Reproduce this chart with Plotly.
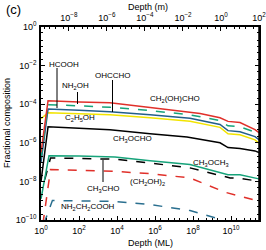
import plotly.graph_objects as go

# log10(depth in ML) and log10(fractional composition)
red_x = [0, 0.37, 2, 3.63, 5.74, 7.84, 8.37, 9.42, 9.84, 10.47, 11.26, 11.47]
red_y = [-6.5, -3.82, -3.88, -3.93, -4.17, -4.44, -4.48, -4.70, -4.89, -4.95, -5.32, -5.48]
gd_x = [0, 0.37, 2, 3.63, 5.74, 7.84, 9.42, 9.84, 10.47, 11.26, 11.47]
gd_y = [-6.8, -4.03, -4.08, -4.16, -4.33, -4.55, -4.85, -5.12, -5.17, -5.45, -5.63]
bl_x = [0, 0.37, 2, 3.63, 5.74, 7.84, 9.42, 9.84, 10.47, 11.26, 11.47]
bl_y = [-7.0, -4.25, -4.31, -4.39, -4.55, -4.73, -5.05, -5.37, -5.43, -5.68, -5.84]
ye_x = [0, 0.37, 2, 3.63, 5.74, 7.84, 9.42, 9.84, 10.47, 11.26, 11.47]
ye_y = [-4.75, -4.44, -4.49, -4.55, -4.70, -4.88, -5.20, -5.53, -5.58, -5.85, -6.02]
bk_x = [0, 0.37, 2, 3.63, 5.74, 7.68, 9.42, 9.84, 10.47, 11.26, 11.47]
bk_y = [-8.0, -5.17, -5.24, -5.32, -5.53, -5.70, -6.00, -6.25, -6.30, -6.42, -6.51]
gs_x = [0, 0.42, 2, 3.89, 5.74, 7.84, 9.84, 10.47, 11.47]
gs_y = [-8.9, -6.67, -6.69, -6.73, -6.93, -7.13, -7.65, -7.66, -7.87]
kd_x = [0.2, 0.5, 2, 3.89, 5.74, 7.84, 9.95, 10.5, 11.47]
kd_y = [-7.9, -6.79, -6.81, -6.85, -7.05, -7.30, -7.82, -7.84, -8.0]
rd_x = [0.1, 0.5, 2, 3.89, 5.74, 7.84, 9.68, 11.47]
rd_y = [-10.2, -7.39, -7.43, -7.48, -7.60, -7.82, -8.56, -9.03]
bd_x = [0.15, 0.6, 2, 3.89, 5.74, 7.84, 9.47, 9.7]
bd_y = [-10.2, -8.99, -9.01, -9.04, -9.2, -9.51, -9.97, -10.2]

ml_per_m_log = 9.47  # 1 ML ~ 3.4e-10 m
x_max_log = 11.4705

fig = go.Figure()

def add(xs, ys, color, dash):
    fig.add_trace(go.Scatter(x=[10**v for v in xs], y=[10**v for v in ys], mode="lines",
                             line=dict(color=color, width=1.5, dash=dash), showlegend=False))

add(bd_x, bd_y, "#2a6f8f", "dash")
add(rd_x, rd_y, "#e0302a", "dash")
add(kd_x, kd_y, "#000000", "dash")
add(gs_x, gs_y, "#16a37a", "solid")
add(bk_x, bk_y, "#000000", "solid")
add(ye_x, ye_y, "#f2e400", "solid")
add(bl_x, bl_y, "#235f8a", "solid")
add(gd_x, gd_y, "#16a37a", "dash")
add(red_x, red_y, "#e0302a", "solid")

# dummy trace for top axis
fig.add_trace(go.Scatter(x=[1e-9], y=[1e-20], xaxis="x2", mode="markers",
                         marker=dict(opacity=0), showlegend=False, hoverinfo="skip"))

FAM = "Liberation Sans, Arial, sans-serif"
font = dict(family=FAM, size=9, color="black")

def sup(v):
    return "10<sup>%d</sup>" % v if v >= 0 else "10<sup>\u2212%d</sup>" % (-v)

bx_vals = [10**v for v in range(0, 12, 2)]
bx_text = [sup(v) for v in range(0, 12, 2)]
tx_vals = [10**v for v in range(-8, 4, 2)]
tx_text = [sup(v) for v in range(-8, 4, 2)]
y_vals = [10**v for v in range(-10, 1, 2)]
y_text = [sup(v) for v in range(-10, 1, 2)]

axcommon = dict(type="log", showgrid=False, zeroline=False, ticks="inside", ticklen=4,
                linecolor="black", linewidth=1.5, tickcolor="black", tickfont=font,
                automargin=False, ticklabeloverflow="allow",
                minor=dict(ticks="inside", ticklen=2, tickcolor="black", showgrid=False))

fig.update_layout(
    template="none",
    width=266, height=250,
    margin=dict(l=41, r=7, t=27, b=30),
    paper_bgcolor="white", plot_bgcolor="white",
    xaxis=dict(range=[-0.0005, x_max_log], tickvals=bx_vals, ticktext=bx_text, ticklabelstandoff=1, **axcommon),
    xaxis2=dict(range=[-0.0005 - ml_per_m_log, x_max_log - ml_per_m_log], overlaying="x", side="top",
                tickvals=tx_vals, ticktext=tx_text, anchor="y", ticklabelstandoff=1, **axcommon),
    yaxis=dict(range=[-10.0005, 0.0005], tickvals=y_vals, ticktext=y_text, mirror="ticks",
               ticklabelstandoff=1, **axcommon),
)

def px2paper(px, py):
    return (px - 41) / 218, (220 - py) / 193

# axis titles
for t, px, py, ang in [("Depth (ML)", 150, 243, 0), ("Depth (m)", 148, 7, 0),
                        ("Fractional composition", 7, 123, -90)]:
    xp, yp = px2paper(px, py)
    fig.add_annotation(text=t, x=xp, y=yp, xref="paper", yref="paper", showarrow=False,
                       font=font, textangle=ang, xanchor="center", yanchor="middle")

labels = [
    ("HCOOH", 64, 64), ("NH<sub>2</sub>OH", 75, 86), ("OHCCHO", 113, 75),
    ("CH<sub>2</sub>(OH)CHO", 175, 99), ("C<sub>2</sub>H<sub>5</sub>OH", 80, 118),
    ("CH<sub>3</sub>OCHO", 132, 139), ("CH<sub>3</sub>OCH<sub>3</sub>", 211, 163),
    ("(CH<sub>2</sub>OH)<sub>2</sub>", 147, 182), ("CH<sub>3</sub>CHO", 103, 189),
    ("NH<sub>2</sub>CH<sub>2</sub>COOH", 88, 207),
]
lfont = dict(family=FAM, size=8, color="black")
for t, px, py in labels:
    xp, yp = px2paper(px, py)
    fig.add_annotation(text=t, x=xp, y=yp, xref="paper", yref="paper", showarrow=False,
                       font=lfont, xanchor="center", yanchor="middle")

pointers = [(57, 68, 108), (77.5, 92, 104), (112.5, 80, 112), (103, 160, 182)]
for px, y0, y1 in pointers:
    x0p, y0p = px2paper(px, y0)
    _, y1p = px2paper(px, y1)
    fig.add_shape(type="line", xref="paper", yref="paper", x0=x0p, x1=x0p, y0=y0p, y1=y1p,
                  line=dict(color="black", width=1))

# right border
fig.add_shape(type="line", xref="paper", yref="paper", x0=1, x1=1, y0=0, y1=1,
              line=dict(color="black", width=1.5))

xp, yp = px2paper(4, 10)
fig.add_annotation(text="(c)", x=xp, y=yp, xref="paper", yref="paper",
                   showarrow=False, font=dict(family=FAM, size=13, color="black"),
                   xanchor="left", yanchor="middle")

fig.write_html("out.html", config={"displayModeBar": False},
               post_script="document.body.style.margin='0';document.body.style.overflow='hidden';")
